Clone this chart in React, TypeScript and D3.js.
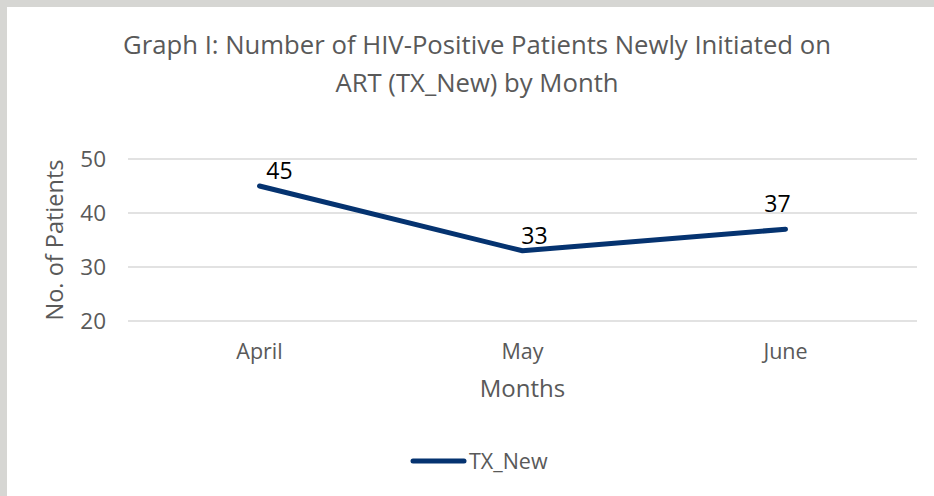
import React, { useEffect, useRef } from 'react';
import * as d3 from 'd3';

// chart data
const months = ['April', 'May', 'June'];
const txNew = [45, 33, 37];
const yTicks = [20, 30, 40, 50];
const titleLines = [
  'Graph I: Number of HIV-Positive Patients Newly Initiated on',
  'ART (TX_New) by Month',
];

const FONT = '"Open Sans", sans-serif';
const GREY = '#595959';
const NAVY = '#053370';

const App = () => {
  const svgRef = useRef<SVGSVGElement>(null);

  useEffect(() => {
    const svg = d3.select(svgRef.current);
    svg.selectAll('*').remove();

    const width = 934;
    const height = 496;
    const margin = { top: 159, right: 17, bottom: 175, left: 128 };

    // frame
    svg.append('rect').attr('width', width).attr('height', height).attr('fill', '#d6d6d3');
    svg.append('rect').attr('x', 7).attr('y', 7).attr('width', width - 7).attr('height', height - 7).attr('fill', '#ffffff');

    const x = d3.scaleBand().domain(months).range([margin.left, width - margin.right]);
    const y = d3.scaleLinear().domain([20, 50]).range([height - margin.bottom, margin.top]);

    // title
    svg.append('text')
      .attr('x', 477)
      .attr('y', 54)
      .attr('text-anchor', 'middle')
      .style('font-family', FONT)
      .style('font-size', '25.7px')
      .attr('fill', GREY)
      .selectAll('tspan')
      .data(titleLines)
      .enter()
      .append('tspan')
      .attr('x', 477)
      .attr('dy', (d, i) => (i === 0 ? 0 : 38))
      .text((d) => d);

    // gridlines
    svg.append('g')
      .selectAll('line')
      .data(yTicks)
      .enter()
      .append('line')
      .attr('x1', margin.left)
      .attr('x2', width - margin.right)
      .attr('y1', (d) => y(d))
      .attr('y2', (d) => y(d))
      .attr('stroke', '#d9d9d9')
      .attr('stroke-width', 1.5);

    // y tick labels
    svg.append('g')
      .selectAll('text')
      .data(yTicks)
      .enter()
      .append('text')
      .attr('x', 106)
      .attr('y', (d) => y(d))
      .attr('dy', '0.35em')
      .attr('text-anchor', 'end')
      .style('font-family', FONT)
      .style('font-size', '22.5px')
      .attr('fill', GREY)
      .text((d) => d);

    // x tick labels
    svg.append('g')
      .selectAll('text')
      .data(months)
      .enter()
      .append('text')
      .attr('x', (d) => x(d)! + x.bandwidth() / 2)
      .attr('y', 359)
      .attr('text-anchor', 'middle')
      .style('font-family', FONT)
      .style('font-size', '21.5px')
      .attr('fill', GREY)
      .text((d) => d);

    // axis titles
    svg.append('text')
      .attr('x', (margin.left + width - margin.right) / 2)
      .attr('y', 397)
      .attr('text-anchor', 'middle')
      .style('font-family', FONT)
      .style('font-size', '24px')
      .attr('fill', GREY)
      .text('Months');

    svg.append('text')
      .attr('transform', `translate(63,${(y(20) + y(50)) / 2}) rotate(-90)`)
      .attr('text-anchor', 'middle')
      .style('font-family', FONT)
      .style('font-size', '23.5px')
      .attr('fill', GREY)
      .text('No. of Patients');

    // series line
    const line = d3.line<number>()
      .x((d, i) => x(months[i])! + x.bandwidth() / 2)
      .y((d) => y(d));

    svg.append('path')
      .datum(txNew)
      .attr('d', line)
      .attr('fill', 'none')
      .attr('stroke', NAVY)
      .attr('stroke-width', 5)
      .attr('stroke-linecap', 'round')
      .attr('stroke-linejoin', 'round');

    // data labels (nudged like the original)
    const labelDx = [20, 12, -8];
    const labelDy = [-7, -7, -17];
    svg.append('g')
      .selectAll('text')
      .data(txNew)
      .enter()
      .append('text')
      .attr('x', (d, i) => x(months[i])! + x.bandwidth() / 2 + labelDx[i])
      .attr('y', (d, i) => y(d) + labelDy[i])
      .attr('text-anchor', 'middle')
      .style('font-family', FONT)
      .style('font-size', '23px')
      .attr('fill', '#000000')
      .text((d) => d);

    // legend
    const legend = svg.append('g');
    legend.append('line')
      .attr('x1', 413)
      .attr('x2', 464)
      .attr('y1', 461)
      .attr('y2', 461)
      .attr('stroke', NAVY)
      .attr('stroke-width', 5)
      .attr('stroke-linecap', 'round');
    legend.append('text')
      .attr('x', 469)
      .attr('y', 469)
      .style('font-family', FONT)
      .style('font-size', '21.5px')
      .attr('fill', GREY)
      .text('TX_New');
  }, []);

  return (
    <svg
      ref={svgRef}
      width={934}
      height={496}
      style={{ position: 'absolute', left: 0, top: 0, display: 'block' }}
    />
  );
};

export default App;
